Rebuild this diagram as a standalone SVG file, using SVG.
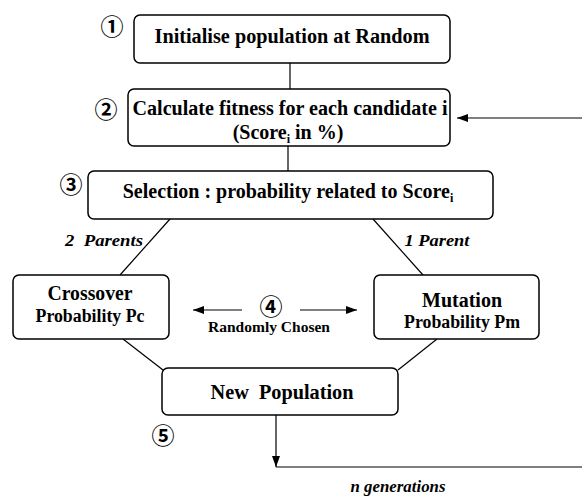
<svg xmlns="http://www.w3.org/2000/svg" width="582" height="497" viewBox="0 0 582 497">
<style>
.box{fill:#fff;stroke:#000;stroke-width:1.5}
.t{font-family:"Liberation Serif","Times New Roman",serif;font-weight:bold;fill:#000;text-anchor:middle}
.it{font-style:italic}
.num{font-family:"Noto Sans CJK JP","DejaVu Sans",sans-serif;font-size:23px;font-weight:bold;fill:#000;text-anchor:middle}
.ln{stroke:#000;stroke-width:1.2;fill:none}
</style>
<defs>
<marker id="ah" markerWidth="11" markerHeight="8" refX="11" refY="4" orient="auto" markerUnits="userSpaceOnUse">
<path d="M0,0 L11,4 L0,8 Z" fill="#000"/>
</marker>
</defs>
<rect width="582" height="497" fill="#fff"/>
<g id="connectors">
<line class="ln" x1="290" y1="63" x2="290" y2="89"/>
<line class="ln" x1="582" y1="118" x2="457" y2="118" marker-end="url(#ah)"/>
<line class="ln" x1="288" y1="146" x2="288" y2="171"/>
<line class="ln" x1="170" y1="219" x2="120" y2="275"/>
<line class="ln" x1="373" y1="219" x2="423" y2="275"/>
<line class="ln" x1="242" y1="310" x2="193" y2="310" marker-end="url(#ah)"/>
<line class="ln" x1="300" y1="310" x2="357" y2="310" marker-end="url(#ah)"/>
<line class="ln" x1="123" y1="339" x2="163" y2="370"/>
<line class="ln" x1="437" y1="339" x2="398" y2="370"/>
<line class="ln" x1="276" y1="415" x2="276" y2="467" marker-end="url(#ah)"/>
<line class="ln" x1="276" y1="467" x2="582" y2="467"/>
<text class="t it" x="104" y="246" font-size="17" textLength="78" lengthAdjust="spacingAndGlyphs" xml:space="preserve">2  Parents</text>
<text class="t it" x="437" y="246" font-size="17" textLength="65" lengthAdjust="spacingAndGlyphs">1 Parent</text>
<text class="t" x="269" y="332" font-size="15" textLength="122" lengthAdjust="spacingAndGlyphs">Randomly Chosen</text>
<text class="t it" x="398" y="492" font-size="17" textLength="95" lengthAdjust="spacingAndGlyphs">n generations</text>
</g>
<g id="n1">
<rect class="box" x="134" y="15" width="316" height="48" rx="6"/>
<text class="t" x="292" y="43" font-size="20" textLength="275" lengthAdjust="spacingAndGlyphs">Initialise population at Random</text>
<text class="num" x="112" y="35">①</text>
</g>
<g id="n2">
<rect class="box" x="128" y="89" width="322" height="57" rx="6"/>
<text class="t" x="290" y="115" font-size="20" textLength="315" lengthAdjust="spacingAndGlyphs">Calculate fitness for each candidate i</text>
<text class="t" x="288" y="139" font-size="20">(Score<tspan font-size="12" dy="4">i</tspan><tspan dy="-4"> in %)</tspan></text>
<text class="num" x="106" y="118">②</text>
</g>
<g id="n3">
<rect class="box" x="88" y="171" width="405" height="48" rx="6"/>
<text class="t" x="288" y="198" font-size="20">Selection : probability related to Score<tspan font-size="12" dy="4">i</tspan></text>
<text class="num" x="71" y="193">③</text>
</g>
<g id="n4">
<rect class="box" x="13" y="275" width="156" height="64" rx="6"/>
<text class="t" x="90" y="300" font-size="20" textLength="85" lengthAdjust="spacingAndGlyphs">Crossover</text>
<text class="t" x="90" y="322" font-size="18" textLength="109" lengthAdjust="spacingAndGlyphs">Probability Pc</text>
</g>
<g id="n5">
<rect class="box" x="374" y="275" width="165" height="64" rx="6"/>
<text class="t" x="462" y="307" font-size="20" textLength="80" lengthAdjust="spacingAndGlyphs">Mutation</text>
<text class="t" x="462" y="328" font-size="18" textLength="116" lengthAdjust="spacingAndGlyphs">Probability Pm</text>
</g>
<g id="n6">
<text class="num" x="271" y="315">④</text>
</g>
<g id="n7">
<rect class="box" x="162" y="368" width="236" height="47" rx="6"/>
<text class="t" x="282" y="399" font-size="20" textLength="143" lengthAdjust="spacingAndGlyphs" xml:space="preserve">New  Population</text>
<text class="num" x="163" y="444">⑤</text>
</g>
</svg>
